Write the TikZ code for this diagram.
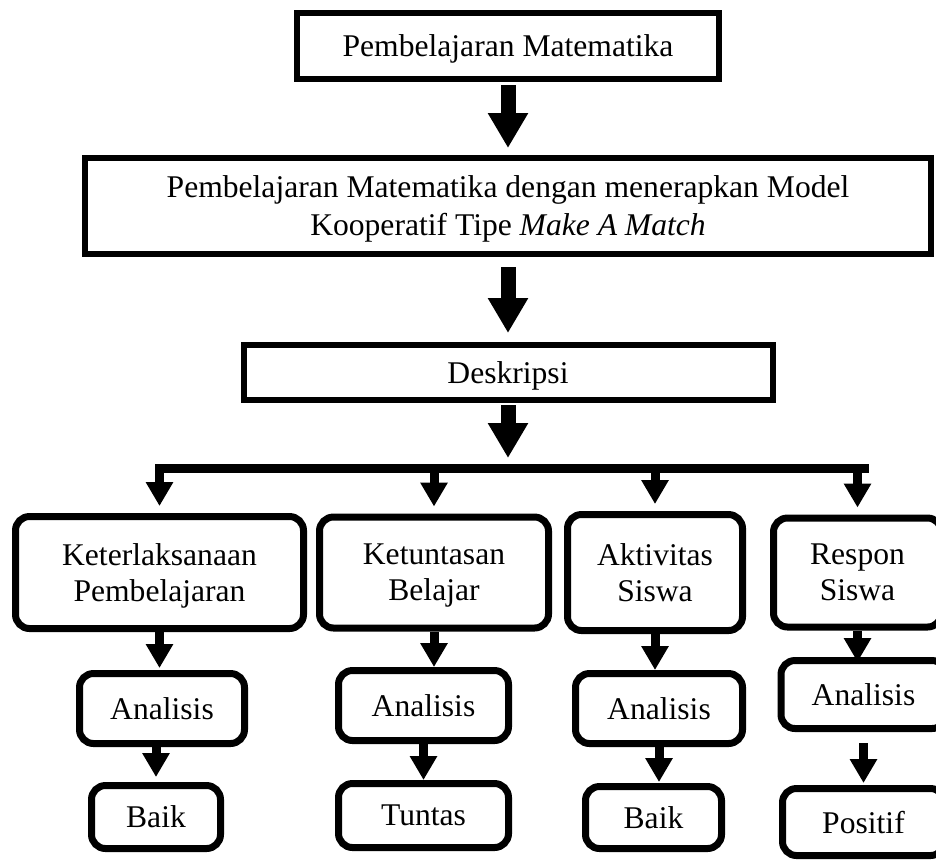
\documentclass[tikz,border=0pt]{standalone}
\usepackage{fontspec}
\setmainfont{Liberation Serif}
\usetikzlibrary{shapes, arrows.meta, positioning}

\begin{document}
\begin{tikzpicture}[node distance=2cm, auto, line width=1pt, font=\fontsize{15.8}{18}\selectfont]

\tikzstyle{mainbox} = [rectangle, draw=black, line width=3pt, align=center, inner sep=2pt, text depth=0pt]
\tikzstyle{aspect} = [rectangle, rounded corners=7pt, draw=black, line width=3.5pt, align=center, inner sep=2pt, text depth=0pt]
\tikzstyle{bigflow} = [-{Triangle[width=19pt, length=17.5pt]}, line width=7.5pt]
\tikzstyle{flow} = [-{Triangle[width=13pt, length=12pt]}, line width=4.5pt]
\tikzstyle{bus} = [line width=4.5pt, line cap=rect]

\useasboundingbox (0,0) rectangle (468pt,-429.5pt);

\node (T1) [mainbox, minimum width=211pt, minimum height=33pt] at (254pt,-23pt) {Pembelajaran Matematika};
\node (T2) [mainbox, below=36.5pt of T1, minimum width=423pt, minimum height=48pt, font=\fontsize{15.8}{19}\selectfont] {Pembelajaran Matematika dengan menerapkan Model\\Kooperatif Tipe \textit{Make A Match}};
\node (T3) [mainbox, below=42.5pt of T2, minimum width=264.5pt, minimum height=27.5pt] {Deskripsi};
\coordinate (bus) at ([yshift=-32.5pt]T3.south);

\node (K1) [aspect, below=55pt of T3, xshift=-174.25pt, minimum width=144pt, minimum height=56pt] {Keterlaksanaan\\Pembelajaran};
\node (K2) [aspect, right=4.5pt of K1, minimum width=114.5pt, minimum height=55.5pt] {Ketuntasan\\Belajar};
\node (K3) [aspect, right=6pt of K2, minimum width=87.5pt, minimum height=58pt] {Aktivitas\\Siswa};
\node (K4) [aspect, right=12pt of K3, minimum width=84pt, minimum height=54.5pt] {Respon\\Siswa};

\node (A1) [aspect, below=19pt of K1, xshift=1.25pt, minimum width=82.5pt, minimum height=35pt] {Analisis};
\node (A2) [aspect, below=17.75pt of K2, xshift=-5.25pt, minimum width=85pt, minimum height=35pt] {Analisis};
\node (A3) [aspect, below=18pt of K3, xshift=2pt, minimum width=83.5pt, minimum height=35pt] {Analisis};
\node (A4) [aspect, below=13.25pt of K4, xshift=3pt, minimum width=82.5pt, minimum height=34pt] {Analisis};

\node (H1) [aspect, below=17.5pt of A1, xshift=-3pt, minimum width=64.5pt, minimum height=31.5pt] {Baik};
\node (H2) [aspect, below=18pt of A2, minimum width=85pt, minimum height=32pt] {Tuntas};
\node (H3) [aspect, below=18pt of A3, xshift=-2.75pt, minimum width=68pt, minimum height=31pt] {Baik};
\node (H4) [aspect, below=26.5pt of A4, minimum width=81pt, minimum height=33.5pt] {Positif};

\draw [bigflow, shorten <=1.5pt, shorten >=3.5pt] (T1) -- (T2);
\draw [bigflow, shorten <=5pt, shorten >=4.5pt] (T2) -- (T3);
\draw [bigflow, shorten <=1pt, shorten >=5pt] (T3) -- (bus);

% bus and drops
\draw [bus, shorten >=-3.5pt] (K1.north |- bus) -- (K4.north |- bus);
\draw [flow, shorten >=3.5pt] (K1.north |- bus) -- (K1);
\draw [flow, shorten >=3.5pt] (K2.north |- bus) -- (K2);
\draw [flow, shorten >=3.5pt] (K3.north |- bus) -- (K3);
\draw [flow, shorten >=3.5pt] (K4.north |- bus) -- (K4);

\draw [flow, shorten >=1pt] (K1) -- (K1 |- A1.north);
\draw [flow] (K2) -- (K2 |- A2.north);
\draw [flow] (K3) -- (K3 |- A3.north);
\draw [flow, shorten >=-2.5pt] (K4) -- (K4 |- A4.north);

\draw [flow, shorten >=2.5pt] (H1 |- A1.south) -- (H1);
\draw [flow] (A2) -- (H2);
\draw [flow, shorten >=0.5pt] (A3) -- (A3 |- H3.north);
\draw [flow, shorten <=5.5pt, shorten >=1pt] (A4) -- (H4);

\end{tikzpicture}
\end{document}
